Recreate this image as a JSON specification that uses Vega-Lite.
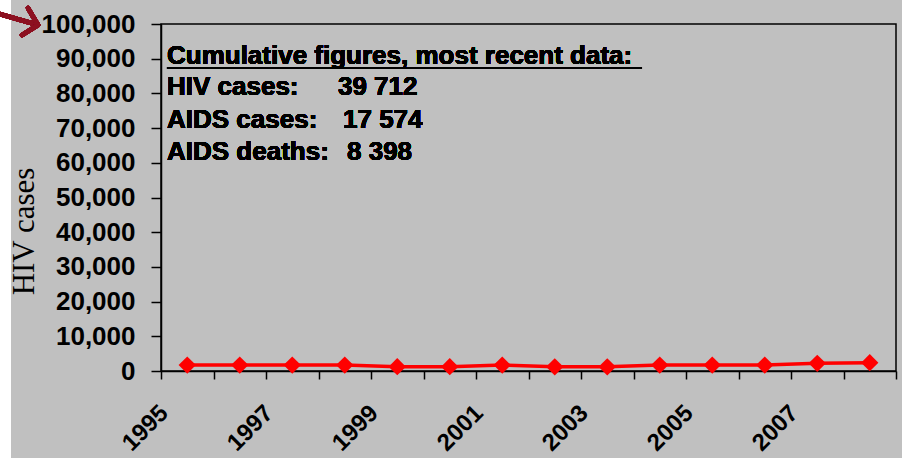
{
  "$schema": "https://vega.github.io/schema/vega-lite/v6.json",
  "width": 735,
  "height": 347,
  "autosize": "none",
  "padding": {"left": 161, "top": 24, "right": 6, "bottom": 87},
  "background": "#c0c0c0",
  "config": {
    "view": {"stroke": "#000000", "strokeWidth": 1.5},
    "axis": {
      "labelFont": "Liberation Sans",
      "labelFontWeight": "bold",
      "labelColor": "#000000",
      "domainColor": "#000000",
      "tickColor": "#000000",
      "domainWidth": 1.5,
      "tickWidth": 1.5,
      "grid": false
    },
    "text": {"font": "Liberation Sans", "fontWeight": "bold", "fontSize": 26, "color": "#000000", "align": "left", "baseline": "alphabetic"}
  },
  "data": {
    "values": [
      {"year": 1995, "cases": 1700},
      {"year": 1996, "cases": 1700},
      {"year": 1997, "cases": 1700},
      {"year": 1998, "cases": 1700},
      {"year": 1999, "cases": 1250},
      {"year": 2000, "cases": 1250},
      {"year": 2001, "cases": 1700},
      {"year": 2002, "cases": 1200},
      {"year": 2003, "cases": 1200},
      {"year": 2004, "cases": 1700},
      {"year": 2005, "cases": 1700},
      {"year": 2006, "cases": 1700},
      {"year": 2007, "cases": 2200},
      {"year": 2008, "cases": 2400}
    ]
  },
  "layer": [
    {
      "mark": {"type": "line", "color": "#ff0000", "strokeWidth": 3.5},
      "encoding": {
        "x": {
          "field": "year",
          "type": "quantitative",
          "scale": {"domain": [1994.5, 2008.5], "nice": false, "zero": false},
          "axis": {
            "title": null,
            "values": [1994.5, 1995.5, 1996.5, 1997.5, 1998.5, 1999.5, 2000.5, 2001.5, 2002.5, 2003.5, 2004.5, 2005.5, 2006.5, 2007.5, 2008.5],
            "tickCount": 20,
            "labelExpr": "(datum.value + 0.5) % 2 == 1 && datum.value < 2008 ? format(datum.value + 0.5, 'd') : ''",
            "tickSize": 8,
            "labelAngle": -45,
            "labelAlign": "right",
            "labelBaseline": "middle",
            "labelPadding": 30,
            "labelOffset": 3,
            "labelFontSize": 24,
            "labelBound": false,
            "labelFlush": false,
            "labelOverlap": false
          }
        },
        "y": {
          "field": "cases",
          "type": "quantitative",
          "scale": {"domain": [0, 100000], "nice": false},
          "axis": {
            "title": "HIV cases",
            "titleFont": "Liberation Serif",
            "titleFontWeight": "normal",
            "titleFontSize": 31,
            "titleColor": "#000000",
            "titleX": -128,
            "titleY": 207,
            "titleAngle": -90,
            "titleAlign": "center",
            "titleBaseline": "alphabetic",
            "values": [0, 10000, 20000, 30000, 40000, 50000, 60000, 70000, 80000, 90000, 100000],
            "tickCount": 12,
            "format": ",d",
            "tickSize": 10,
            "labelPadding": 16,
            "labelFontSize": 26,
            "labelBaseline": "middle",
            "labelOverlap": false,
            "labelBound": false,
            "labelFlush": false
          }
        }
      }
    },
    {
      "mark": {"type": "point", "shape": "diamond", "filled": true, "color": "#ff0000", "size": 300, "opacity": 1},
      "encoding": {
        "x": {"field": "year", "type": "quantitative"},
        "y": {"field": "cases", "type": "quantitative"}
      }
    },
    {
      "mark": {"type": "rect", "fill": "#ffffff", "clip": false},
      "encoding": {
        "x": {"datum": 1991.0, "type": "quantitative"},
        "x2": {"datum": 1991.64},
        "y": {"datum": 110000, "type": "quantitative"},
        "y2": {"datum": -30000}
      }
    },
    {
      "mark": {"type": "rule", "stroke": "#8c1020", "strokeWidth": 4.5, "strokeCap": "round", "clip": false},
      "encoding": {
        "x": {"datum": 1991.40, "type": "quantitative"},
        "x2": {"datum": 1992.157},
        "y": {"datum": 103000, "type": "quantitative"},
        "y2": {"datum": 99712}
      }
    },
    {
      "mark": {"type": "rule", "stroke": "#8c1020", "strokeWidth": 4.5, "strokeCap": "round", "clip": false},
      "encoding": {
        "x": {"datum": 1991.967, "type": "quantitative"},
        "x2": {"datum": 1992.157},
        "y": {"datum": 104600, "type": "quantitative"},
        "y2": {"datum": 99712}
      }
    },
    {
      "mark": {"type": "rule", "stroke": "#8c1020", "strokeWidth": 4.5, "strokeCap": "round", "clip": false},
      "encoding": {
        "x": {"datum": 1991.852, "type": "quantitative"},
        "x2": {"datum": 1992.157},
        "y": {"datum": 96800, "type": "quantitative"},
        "y2": {"datum": 99712}
      }
    },
    {
      "mark": {"type": "text", "text": "Cumulative figures, most recent data:"},
      "encoding": {"x": {"datum": 1994.614, "type": "quantitative"}, "y": {"datum": 88500, "type": "quantitative"}}
    },
    {
      "mark": {"type": "rule", "stroke": "#000000", "strokeWidth": 2},
      "encoding": {
        "x": {"datum": 1994.614, "type": "quantitative"},
        "x2": {"datum": 2003.662},
        "y": {"datum": 87300, "type": "quantitative"}
      }
    },
    {
      "mark": {"type": "text", "text": "HIV cases:"},
      "encoding": {"x": {"datum": 1994.614, "type": "quantitative"}, "y": {"datum": 79500, "type": "quantitative"}}
    },
    {
      "mark": {"type": "text", "text": "39 712"},
      "encoding": {"x": {"datum": 1997.871, "type": "quantitative"}, "y": {"datum": 79500, "type": "quantitative"}}
    },
    {
      "mark": {"type": "text", "text": "AIDS cases:"},
      "encoding": {"x": {"datum": 1994.614, "type": "quantitative"}, "y": {"datum": 70000, "type": "quantitative"}}
    },
    {
      "mark": {"type": "text", "text": "17 574"},
      "encoding": {"x": {"datum": 1997.967, "type": "quantitative"}, "y": {"datum": 70000, "type": "quantitative"}}
    },
    {
      "mark": {"type": "text", "text": "AIDS deaths:"},
      "encoding": {"x": {"datum": 1994.614, "type": "quantitative"}, "y": {"datum": 60800, "type": "quantitative"}}
    },
    {
      "mark": {"type": "text", "text": "8 398"},
      "encoding": {"x": {"datum": 1998.043, "type": "quantitative"}, "y": {"datum": 60800, "type": "quantitative"}}
    }
  ]
}
